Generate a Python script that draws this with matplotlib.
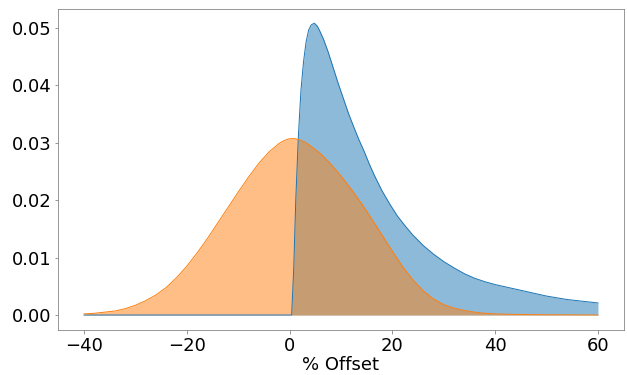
import matplotlib
matplotlib.use('Agg')
import matplotlib.pyplot as plt
import numpy as np

# values
blue_x = [-40, 0.0, 0.4, 0.8, 1.2, 1.7, 2.2, 2.7, 3.2, 3.7, 4.2, 4.8, 5.4, 6.0, 6.6,
          7.5, 8.5, 9.5, 10.5, 11.5, 12.5, 13.5, 14.5, 15.5, 16.5, 18, 19.5, 21,
          22.5, 24, 26, 28, 30, 32, 34, 36, 38, 40, 42, 44, 46, 48, 50, 52, 54,
          56, 58, 60]
blue_y = [0.0, 0.0, 0.0, 0.008, 0.020, 0.031, 0.039, 0.0440, 0.0475, 0.0496, 0.0505,
          0.0508, 0.0503, 0.0492, 0.0480, 0.0458, 0.0430, 0.0402, 0.0376, 0.0350,
          0.0327, 0.0305, 0.0285, 0.0263, 0.0243, 0.0216, 0.0193, 0.0172, 0.0155,
          0.0139, 0.0121, 0.0106, 0.0093, 0.0082, 0.0072, 0.0064, 0.0058, 0.0053,
          0.0049, 0.0045, 0.0041, 0.0037, 0.0033, 0.0030, 0.0027, 0.0025, 0.0023,
          0.0021]

orange_x = [-40, -38, -36, -34, -32, -30, -28, -26, -24, -22, -20, -18, -16, -14,
            -12, -10, -8, -6, -4, -2, -1, 0, 1, 2, 3, 4, 6, 8, 10, 12, 14, 16, 18,
            20, 22, 24, 26, 28, 30, 32, 34, 36, 38, 40, 44, 50, 60]
orange_y = [0.0002, 0.0003, 0.0005, 0.0007, 0.0011, 0.0017, 0.0025, 0.0035, 0.0048,
            0.0065, 0.0085, 0.0108, 0.0133, 0.0160, 0.0187, 0.0214, 0.0240, 0.0264,
            0.0284, 0.0299, 0.0304, 0.0307, 0.0307, 0.0305, 0.0301, 0.0295, 0.0281,
            0.0263, 0.0242, 0.0219, 0.0194, 0.0167, 0.0139, 0.0111, 0.0084, 0.0061,
            0.0042, 0.0028, 0.0018, 0.0012, 0.0008, 0.0005, 0.0003, 0.0002, 0.0001,
            0.00005, 0.0]

fig = plt.figure(figsize=(627 / 72, 375 / 72), dpi=72)
ax = fig.add_axes([0.093, 0.121, 0.9017, 0.856])

ax.plot(blue_x, blue_y, color='tab:blue', lw=1)
ax.fill_between(blue_x, blue_y, color='tab:blue', alpha=0.5, lw=0)
ax.plot(orange_x, orange_y, color='tab:orange', lw=1)
ax.fill_between(orange_x, orange_y, color='tab:orange', alpha=0.5, lw=0)

ax.set_xticks([-40, -20, 0, 20, 40, 60])
ax.set_yticks([0.0, 0.01, 0.02, 0.03, 0.04, 0.05])
ax.tick_params(labelsize=18, color='grey')
ax.set_xlabel('% Offset', fontsize=18, labelpad=1)
for s in ax.spines.values():
    s.set_color('grey')

fig.savefig('out.png', dpi=72)
